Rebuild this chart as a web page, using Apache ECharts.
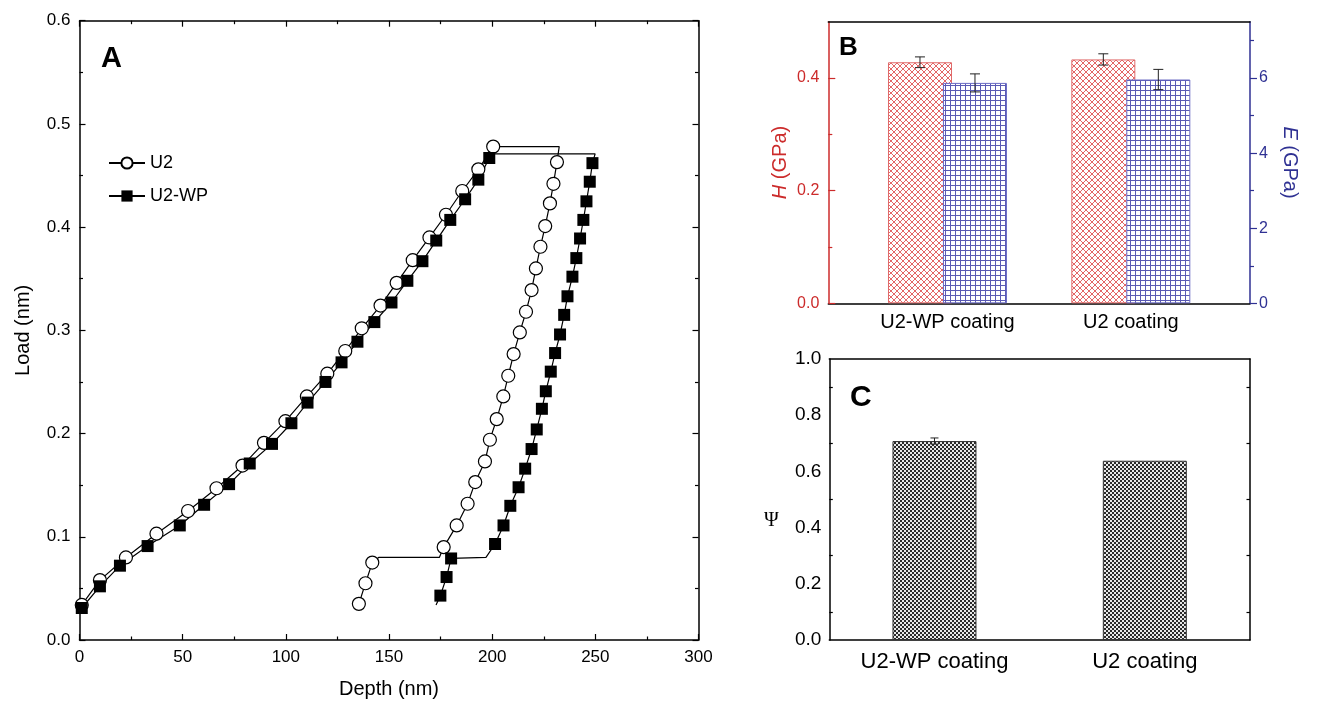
<!DOCTYPE html>
<html><head><meta charset="utf-8">
<script src="https://cdn.jsdelivr.net/npm/echarts@6/dist/echarts.min.js"></script>
<style>html,body{margin:0;padding:0;background:#fff}#c{width:1338px;height:704px}</style>
</head><body><div id="c"></div>
<script>
// ---------- Panel A data (depth nm, load) ----------
const u2Loading = [[1.1,0.034],[9.9,0.058],[22.5,0.080],[37.3,0.103],[52.6,0.125],[66.4,0.147],[79.0,0.169],[89.4,0.191],[99.8,0.212],[110.2,0.236],[120.1,0.258],[128.8,0.280],[136.8,0.302],[145.9,0.324],[153.7,0.346],[161.5,0.368],[169.6,0.390],[177.6,0.412],[185.5,0.435],[193.3,0.456],[200.5,0.478]];
const u2Hold = [[232.5,0.478]];
const u2Unloading = [[231.4,0.463],[229.7,0.442],[228.0,0.423],[225.7,0.401],[223.4,0.381],[221.2,0.360],[219.1,0.339],[216.4,0.318],[213.4,0.298],[210.4,0.277],[207.8,0.256],[205.4,0.236],[202.2,0.214],[198.9,0.194],[196.5,0.173],[191.8,0.153],[188.1,0.132],[182.8,0.111],[176.5,0.090]];
const u2Step = [[174.4,0.080],[145.0,0.080]];
const u2Tail = [[141.9,0.075],[138.6,0.055],[135.4,0.035]];

const wpLoading = [[1.1,0.031],[9.9,0.052],[19.6,0.072],[33.0,0.091],[48.6,0.111],[60.4,0.131],[72.5,0.151],[82.5,0.171],[93.3,0.190],[102.7,0.210],[110.5,0.230],[119.2,0.250],[127.0,0.269],[134.7,0.289],[142.9,0.308],[151.2,0.327],[158.9,0.348],[166.2,0.367],[172.9,0.387],[179.7,0.407],[186.9,0.427],[193.3,0.446],[198.6,0.467]];
const wpHold = [[200.0,0.471],[249.9,0.471]];
const wpUnloading = [[248.6,0.462],[247.3,0.444],[245.7,0.425],[244.2,0.407],[242.6,0.389],[240.8,0.370],[238.9,0.352],[236.5,0.333],[234.9,0.315],[232.9,0.296],[230.5,0.278],[228.4,0.260],[226.0,0.241],[224.1,0.224],[221.6,0.204],[219.1,0.185],[216.0,0.166],[212.8,0.148],[208.8,0.130],[205.5,0.111],[201.4,0.093]];
const wpStep = [[197.0,0.080]];
const wpTail = [[180.1,0.079],[177.9,0.061],[174.9,0.043]];
const wpEnd = [[172.8,0.034]];

const depthTicks = [0,50,100,150,200,250,300];
const loadTicks = [0,0.1,0.2,0.3,0.4,0.5,0.6];

// ---------- Panel B / C data ----------
const coatings = ['U2-WP coating','U2 coating'];
const hardness = [0.428, 0.433];
const hardnessErr = [0.0095, 0.010];
const modulus = [5.87, 5.96];
const modulusErr = [0.24, 0.27];
const hTicks = [0,0.2,0.4];
const hMinor = [0.1,0.3];
const eTicks = [0,2,4,6];
const eMinor = [1,3,5,7];
const psi = [0.708, 0.638];
const psiErr = [0.011, 0];
const psiTicks = [0,0.2,0.4,0.6,0.8,1.0];

// ---------- patterns ----------
function makePattern(kind){
  const c=document.createElement('canvas');
  const ctx=c.getContext('2d');
  if(kind==='red'){
    c.width=6;c.height=6;ctx.fillStyle='#fff';ctx.fillRect(0,0,6,6);
    ctx.strokeStyle='#e05555';ctx.lineWidth=0.9;
    ctx.beginPath();ctx.moveTo(0,0);ctx.lineTo(6,6);ctx.moveTo(6,0);ctx.lineTo(0,6);ctx.stroke();
  } else if(kind==='blue'){
    c.width=5;c.height=5;ctx.fillStyle='#fff';ctx.fillRect(0,0,5,5);
    ctx.fillStyle='#5a5ab4';ctx.fillRect(0,0,5,1);ctx.fillRect(0,0,1,5);
  } else {
    c.width=4;c.height=4;ctx.fillStyle='#e8e8e8';ctx.fillRect(0,0,4,4);
    ctx.fillStyle='#2a2a2a';ctx.fillRect(0,0,2,2);ctx.fillRect(2,2,2,2);
  }
  return {image:c, repeat:'repeat'};
}

function curve(parts){
  const out=[];
  parts.forEach(([pts,marked])=>pts.forEach(p=>out.push(marked?p:{value:p,symbol:'none'})));
  return out;
}

const RED='#cc2b2b', BLUE='#2f3193';
const BW=64, GAP=-9;
const redDx=-(2*BW+GAP)/2+BW/2, blueDx=-redDx;

function errItem(dx,cap){
  return function(params,api){
    const x=api.value(0),y=api.value(1),e=api.value(2);
    if(!e) return null;
    const t=api.coord([x,y+e]), b=api.coord([x,y-e]);
    const px=t[0]+dx, st={stroke:'#222',lineWidth:1};
    return {type:'group',children:[
      {type:'line',shape:{x1:px,y1:t[1],x2:px,y2:b[1]},style:st},
      {type:'line',shape:{x1:px-cap,y1:t[1],x2:px+cap,y2:t[1]},style:st},
      {type:'line',shape:{x1:px-cap,y1:b[1],x2:px+cap,y2:b[1]},style:st}
    ]};
  };
}

const FONT='Liberation Sans, Arial, sans-serif';
const black={color:'#000',width:1.5};
const bline={show:true,onZero:false,lineStyle:black};
const tk={color:'#000',width:1.2};

const option={
  animation:false,
  textStyle:{fontFamily:FONT},
  grid:[
    {left:79.5,top:20.7,width:619,height:619.3},
    {left:828.3,top:21.7,width:421.7,height:281.6},
    {left:829.3,top:359,width:420.7,height:281}
  ],
  legend:{
    data:['U2','U2-WP'],orient:'vertical',left:103,top:149,itemWidth:36,itemHeight:14,itemGap:15,
    textStyle:{fontSize:18,color:'#000',fontFamily:FONT}
  },
  graphic:[
    {type:'text',left:101,top:44,style:{text:'A',font:'bold 29px '+FONT,fill:'#000'}},
    {type:'text',left:839,top:35,style:{text:'B',font:'bold 26px '+FONT,fill:'#000'}},
    {type:'text',left:850,top:383,style:{text:'C',font:'bold 30px '+FONT,fill:'#000'}},
    {type:'text',left:764,top:511,style:{text:'Ψ',font:'20px Liberation Serif, DejaVu Serif, serif',fill:'#000'}}
  ],
  xAxis:[
    {gridIndex:0,type:'value',min:0,max:300,interval:50,position:'bottom',
     axisLine:bline,axisTick:{inside:true,length:6,lineStyle:tk},
     minorTick:{show:true,splitNumber:2,length:3.5,lineStyle:tk},
     axisLabel:{fontSize:17,color:'#000',margin:9,customValues:depthTicks},splitLine:{show:false},
     name:'Depth (nm)',nameLocation:'middle',nameGap:39,nameTextStyle:{fontSize:20,color:'#000'}},
    {gridIndex:0,type:'value',min:0,max:300,interval:50,position:'top',
     axisLine:bline,axisTick:{inside:true,length:6,lineStyle:tk},
     minorTick:{show:true,splitNumber:2,length:3.5,lineStyle:tk},
     axisLabel:{show:false},splitLine:{show:false}},
    {gridIndex:1,type:'value',min:0.35,max:2.65,position:'bottom',
     axisLine:bline,axisTick:{show:false},splitLine:{show:false},
     axisLabel:{customValues:[1,2],formatter:v=>coatings[Math.round(v)-1],fontSize:20,color:'#000',margin:9}},
    {gridIndex:1,type:'value',min:0.35,max:2.65,position:'top',
     axisLine:bline,axisTick:{show:false},axisLabel:{show:false},splitLine:{show:false}},
    {gridIndex:2,type:'category',data:coatings,position:'bottom',
     axisLine:bline,axisTick:{show:false},splitLine:{show:false},
     axisLabel:{fontSize:22,color:'#000',margin:11}},
    {gridIndex:2,type:'category',data:['','','','','','','','','',''],position:'top',
     axisLine:bline,axisTick:{inside:true,alignWithLabel:true,length:6,lineStyle:tk},
     axisLabel:{show:false},splitLine:{show:false}}
  ],
  yAxis:[
    {gridIndex:0,type:'value',min:0,max:0.6,interval:0.1,position:'left',
     axisLine:bline,axisTick:{inside:true,length:6,lineStyle:tk},
     minorTick:{show:true,splitNumber:2,length:3.5,lineStyle:tk},
     axisLabel:{fontSize:17,color:'#000',margin:9,formatter:v=>v.toFixed(1),customValues:loadTicks},splitLine:{show:false},
     name:'Load (nm)',nameLocation:'middle',nameGap:46,nameTextStyle:{fontSize:20,color:'#000'}},
    {gridIndex:0,type:'value',min:0,max:0.6,interval:0.1,position:'right',
     axisLine:bline,axisTick:{inside:true,length:6,lineStyle:tk},
     minorTick:{show:true,splitNumber:2,length:3.5,lineStyle:tk},
     axisLabel:{show:false},splitLine:{show:false}},
    // B hardness (left, red)
    {gridIndex:1,type:'value',min:0,max:0.5,position:'left',
     axisLine:{show:true,onZero:false,lineStyle:{color:RED,width:1.5}},
     axisTick:{inside:true,length:7,customValues:hTicks,lineStyle:{color:RED,width:1.2}},
     axisLabel:{customValues:hTicks,formatter:v=>v.toFixed(1),fontSize:16,color:RED,margin:9},splitLine:{show:false},
     name:'{i|H} (GPa)',nameLocation:'middle',nameGap:38,nameRotate:90,
     nameTextStyle:{fontSize:20,color:RED,rich:{i:{fontStyle:'italic',fontSize:20,color:RED,fontFamily:FONT}}}},
    {gridIndex:1,type:'value',min:0,max:0.5,position:'left',
     axisLine:{show:false,onZero:false},axisTick:{inside:true,length:4,customValues:hMinor,lineStyle:{color:RED,width:1.2}},
     axisLabel:{show:false},splitLine:{show:false}},
    // B modulus (right, blue)
    {gridIndex:1,type:'value',min:0,max:7.5,position:'right',
     axisLine:{show:true,onZero:false,lineStyle:{color:BLUE,width:1.5}},
     axisTick:{inside:false,length:7,customValues:eTicks,lineStyle:{color:BLUE,width:1.2}},
     axisLabel:{customValues:eTicks,fontSize:16,color:BLUE,margin:9},splitLine:{show:false},
     name:'{i|E} (GPa)',nameLocation:'middle',nameGap:30,nameRotate:-90,
     nameTextStyle:{fontSize:20,color:BLUE,rich:{i:{fontStyle:'italic',fontSize:20,color:BLUE,fontFamily:FONT}}}},
    {gridIndex:1,type:'value',min:0,max:7.5,position:'right',
     axisLine:{show:false,onZero:false},axisTick:{inside:false,length:4,customValues:eMinor,lineStyle:{color:BLUE,width:1.2}},
     axisLabel:{show:false},splitLine:{show:false}},
    // C
    {gridIndex:2,type:'value',min:0,max:1,interval:0.2,position:'left',
     axisLine:bline,axisTick:{inside:true,length:6,lineStyle:tk},
     minorTick:{show:true,splitNumber:2,length:3.5,lineStyle:tk},
     axisLabel:{fontSize:19,color:'#000',margin:8,formatter:v=>v.toFixed(1),customValues:psiTicks},splitLine:{show:false}},
    {gridIndex:2,type:'value',min:0,max:1,interval:0.2,position:'right',
     axisLine:bline,axisTick:{inside:true,length:6,lineStyle:tk},
     minorTick:{show:true,splitNumber:2,length:3.5,lineStyle:tk},
     axisLabel:{show:false},splitLine:{show:false}}
  ],
  series:[
    {name:'U2',type:'line',xAxisIndex:0,yAxisIndex:0,
     data:curve([[u2Loading,true],[u2Hold,false],[u2Unloading,true],[u2Step,false],[u2Tail,true]]),
     symbol:'circle',symbolSize:13,showAllSymbol:true,
     itemStyle:{color:'#fff',borderColor:'#000',borderWidth:1.2},
     lineStyle:{color:'#000',width:1.2}},
    {name:'U2-WP',type:'line',xAxisIndex:0,yAxisIndex:0,
     data:curve([[wpLoading,true],[wpHold,false],[wpUnloading,true],[wpStep,false],[wpTail,true],[wpEnd,false]]),
     symbol:'rect',symbolSize:12,showAllSymbol:true,
     itemStyle:{color:'#000',borderColor:'#000',borderWidth:0},
     lineStyle:{color:'#000',width:1.2}},
    {name:'H',type:'bar',xAxisIndex:2,yAxisIndex:2,barWidth:BW,barGap:(GAP/BW*100).toFixed(1)+'%',
     data:hardness.map((v,i)=>[i+1,v]),
     itemStyle:{color:makePattern('red'),borderColor:'#e06a6a',borderWidth:1}},
    {name:'E',type:'bar',xAxisIndex:2,yAxisIndex:4,barWidth:BW,barGap:(GAP/BW*100).toFixed(1)+'%',
     data:modulus.map((v,i)=>[i+1,v]),
     itemStyle:{color:makePattern('blue'),borderColor:'#6a6ac4',borderWidth:1}},
    {type:'custom',xAxisIndex:2,yAxisIndex:2,renderItem:errItem(redDx,5),
     data:hardness.map((v,i)=>[i+1,v,hardnessErr[i]]),encode:{x:0,y:1},z:5},
    {type:'custom',xAxisIndex:2,yAxisIndex:4,renderItem:errItem(blueDx,5),
     data:modulus.map((v,i)=>[i+1,v,modulusErr[i]]),encode:{x:0,y:1},z:5},
    {name:'Psi',type:'bar',xAxisIndex:4,yAxisIndex:6,barWidth:84,
     data:psi,
     itemStyle:{color:makePattern('gray'),borderColor:'#333',borderWidth:1}},
    {type:'custom',xAxisIndex:4,yAxisIndex:6,renderItem:errItem(0,4),
     data:psi.map((v,i)=>[i,v,psiErr[i]]),encode:{x:0,y:1},z:5}
  ]
};
const chart=echarts.init(document.getElementById('c'),null,{renderer:'canvas'});
chart.setOption(option);
</script>
</body></html>
